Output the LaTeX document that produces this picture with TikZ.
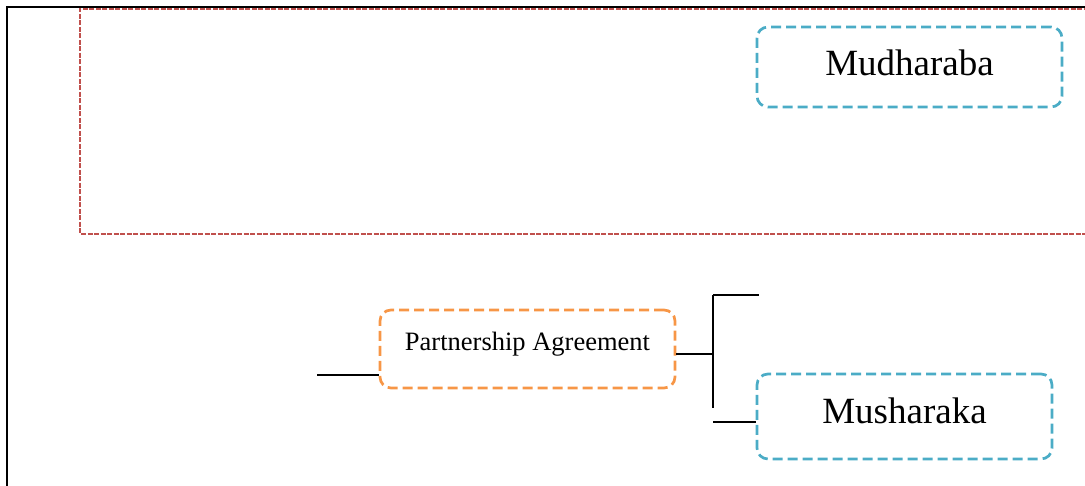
\documentclass[tikz,border=0pt]{standalone}
\usepackage{fontspec}
\setmainfont{Liberation Serif}
\definecolor{frameRed}{HTML}{C0504D}
\definecolor{boxCyan}{HTML}{4BACC6}
\definecolor{boxOrange}{HTML}{F79646}
\tikzset{
  conn/.style={draw=black, line width=2pt},
  framel/.style={draw=black, line width=2.6pt},
  redbox/.style={draw=frameRed, line width=2.8pt, dash pattern=on 5pt off 1.5pt},
  cyanbox/.style={draw=boxCyan, line width=2.7pt, dash pattern=on 10pt off 5pt, rounded corners=11pt, inner sep=0pt, font=\fontsize{37}{40}\selectfont},
  orangebox/.style={draw=boxOrange, line width=2.7pt, dash pattern=on 10pt off 5pt, rounded corners=11pt, inner sep=0pt, font=\fontsize{26.5}{30}\selectfont}
}
\begin{document}
\begin{tikzpicture}[x=1pt,y=-1pt]
\useasboundingbox (0,0) rectangle (1085,486);
% red dashed frame (open to the right)
\draw[redbox] (1095,8.5) -- (80,8.5) -- (80,234) -- (1095,234);
% black frame lines
\draw[framel] (7,489) -- (7,7) -- (1090,7);
% boxes
\node[cyanbox, minimum width=305pt, minimum height=80pt, text height=26pt, text depth=8pt] (mud) at (909.5,67) {Mudharaba};
\node[cyanbox, minimum width=295pt, minimum height=85pt, text height=25pt, text depth=10pt] (mus) at (904.5,416.5) {Musharaka};
\node[orangebox, minimum width=295pt, minimum height=78pt, text height=18pt, text depth=14pt] (pa) at (527.5,349) {Partnership Agreement};
% connectors
\coordinate (lin) at (317,375);
\draw[conn] (lin) -- (lin -| pa.west);
\coordinate (jn) at (713,354);
\draw[conn] (jn -| pa.east) -- (jn);
\coordinate (vt) at (713,295);
\coordinate (vb) at (713,408);
\draw[conn] (vt) -- (vb);
\coordinate (tend) at (759,295);
\draw[conn] (vt) -- (tend);
\coordinate (lb) at (713,422);
\draw[conn] (lb) -- (lb -| mus.west);
\end{tikzpicture}
\end{document}
